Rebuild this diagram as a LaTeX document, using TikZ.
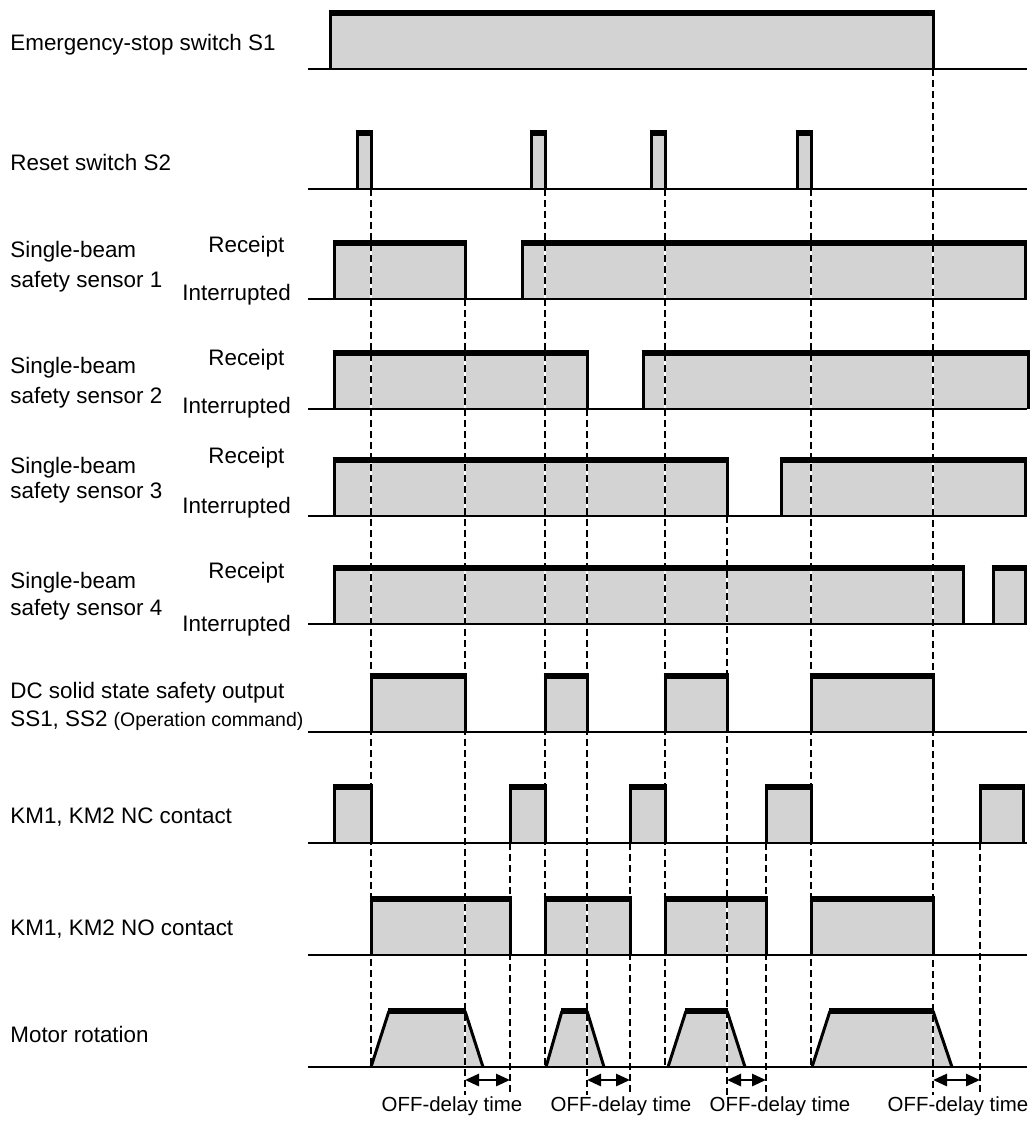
\documentclass[tikz,border=0pt]{standalone}
\usepackage{fontspec}
\setmainfont{Liberation Sans}
\usetikzlibrary{arrows.meta}
\definecolor{pgrey}{HTML}{D3D3D3}

\begin{document}
\begin{tikzpicture}[
  x=0.5pt, y=-0.5pt,
  font=\fontsize{11.2}{13}\selectfont,
  lvl/.style={line width=1.3pt},
  edge/.style={line width=1.5pt},
  bar/.style={line width=3pt},
  shade/.style={fill=pgrey},
  guide/.style={line width=1.4pt, dash pattern=on 3.5pt off 2pt,
    preaction={draw=white, solid, line width=1.4pt}},
  delay/.style={line width=1.4pt,
    {Triangle[length=7pt,width=6pt]}-{Triangle[length=7pt,width=6pt]}},
  lbl/.style={anchor=base west, inner sep=0pt},
  tag/.style={anchor=base, inner sep=0pt, font=\fontsize{10.2}{12}\selectfont}
]
\useasboundingbox (0,0) rectangle (1032,1124);

% signal rows: baseline / pulses (rise/fall)
\def\rows{69/{330/933},
  189/{357/371,531/545,651/665,797/811},
  299/{334/465,522/1025},
  409/{334/587,643/1028},
  516/{334/727,781/1025},
  624/{334/963,993/1025},
  732/{371/465,545/587,665/727,811/933},
  843/{334/371,510/545,630/665,766/811,980/1023},
  955/{371/510,545/630,665/766,811/933}}
\def\motor{371/389/465/483, 546/562/587/604, 668/686/727/745, 812/830/933/952}

% fills
\foreach \b/\pl in \rows {
  \foreach \u/\v in \pl {
    \fill[shade] (\u,\b) rectangle (\v,\b-56);
  }
}
\foreach \a/\p/\q/\c in \motor {
  \fill[shade] (\a,1067) -- (\p,1011) -- (\q,1011) -- (\c,1067) -- cycle;
}

% timing guides
\foreach \x/\s/\e in {371/189/1067, 465/299/1095, 510/788/1095, 545/189/1067,
  587/409/1095, 630/788/1095, 665/189/1067, 727/516/1095, 766/788/1095,
  811/189/1067, 933/69/1095, 980/788/1095}
  \draw[guide] (\x,\s) -- (\x,\e);

% baselines
\foreach \b in {69,189,299,409,516,624,732,843,955,1067}
  \draw[lvl] (308,\b) -- (1027,\b);

% pulse outlines
\foreach \b/\pl in \rows {
  \foreach \u/\v in \pl {
    \draw[edge] (\u,\b) -- (\u,\b-56) (\v,\b-56) -- (\v,\b);
    \draw[bar] (\u-1.5,\b-56) -- (\v+1.5,\b-56);
  }
}
\foreach \a/\p/\q/\c in \motor {
  \draw[edge] (\a,1067) -- (\p,1011) (\q,1011) -- (\c,1067);
  \draw[bar] (\p-1,1011) -- (\q+1,1011);
}

% OFF-delay arrows
\foreach \a/\b/\t [count=\i] in {465/510/452, 587/630/621, 727/766/780, 933/980/958} {
  \coordinate (off\i a) at (\a,1080);
  \coordinate (off\i b) at (\b,1080);
  \draw[delay] (off\i a) -- (off\i b);
  \node[tag] (offtxt\i) at (\t,1111) {OFF-delay time};
}

% row labels
\node[lbl] (es) at (10,50) {Emergency-stop switch S1};
\node[lbl] (rs) at (10,170) {Reset switch S2};
\foreach \n/\ya/\yb/\yr/\yi in {1/257/287/252/300, 2/373/403/365/413,
  3/473/498/463/513, 4/588/615/578/631} {
  \node[lbl] (sb\n) at (10,\ya) {Single-beam};
  \node[lbl] (ss\n) at (10,\yb) {safety sensor \n};
  \node[lbl] (rc\n) at (208,\yr) {Receipt};
  \node[lbl] (ir\n) at (182,\yi) {Interrupted};
}
\node[lbl] (dc) at (10,698) {DC solid state safety output};
\node[lbl] (ssc) at (10,726) {SS1, SS2 {\fontsize{9.75}{11}\selectfont(Operation command)}};
\node[lbl] (nc) at (10,823) {KM1, KM2 NC contact};
\node[lbl] (no) at (10,935) {KM1, KM2 NO contact};
\node[lbl] (mr) at (10,1042) {Motor rotation};
\end{tikzpicture}
\end{document}
